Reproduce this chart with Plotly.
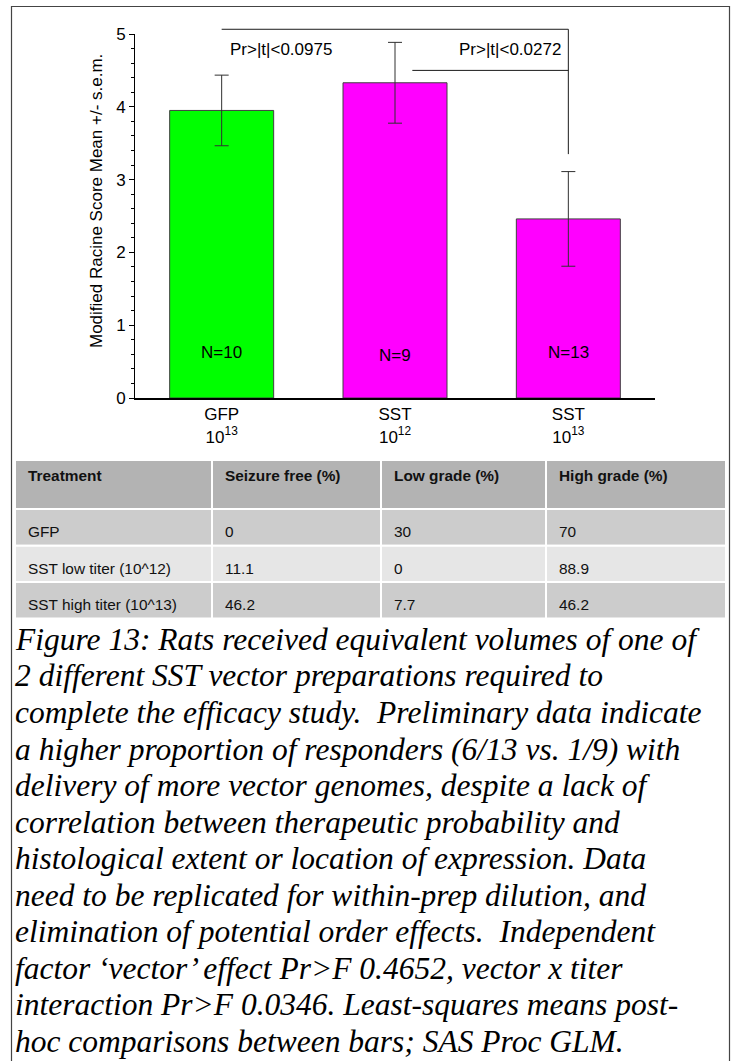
import html
import plotly.graph_objects as go

# ---------------------------------------------------------------- data
groups = ["GFP", "SST", "SST"]
titer_exponents = ["13", "12", "13"]
group_sizes = [10, 9, 13]
score_means = [3.95, 4.33, 2.46]
score_sems = [0.485, 0.555, 0.65]
bar_colors = ["#00ff00", "#ff00ff", "#ff00ff"]

comparison_labels = ["Pr>|t|<0.0975", "Pr>|t|<0.0272"]

table_header = ["Treatment", "Seizure free (%)", "Low grade (%)", "High grade (%)"]
treatments = ["GFP", "SST low titer (10^12)", "SST high titer (10^13)"]
seizure_free = ["0", "11.1", "46.2"]
low_grade = ["30", "0", "7.7"]
high_grade = ["70", "88.9", "46.2"]

caption_lines = [
    "Figure 13: Rats received equivalent volumes of one of",
    "2 different SST vector preparations required to",
    "complete the efficacy study.  Preliminary data indicate",
    "a higher proportion of responders (6/13 vs. 1/9) with",
    "delivery of more vector genomes, despite a lack of",
    "correlation between therapeutic probability and",
    "histological extent or location of expression. Data",
    "need to be replicated for within-prep dilution, and",
    "elimination of potential order effects.  Independent",
    "factor \u2018vector\u2019 effect Pr>F 0.4652, vector x titer",
    "interaction Pr>F 0.0346. Least-squares means post-",
    "hoc comparisons between bars; SAS Proc GLM.",
]

# ---------------------------------------------------------------- page geometry (pixels)
W, H = 732, 1061


def fx(px):
    return px / W


def fy(py):
    return 1 - py / H


def esc(s):
    # keep literal <, > and repeated spaces in rendered text
    return html.escape(s, quote=False).replace("  ", "\u00a0 ")


X_RANGE = [-0.5, 2.5]
Y_RANGE = [0, 5]
X_DOM = [fx(135), fx(655)]
Y_DOM = [fy(398), fy(34)]


def to_paper(xv, yv):
    xp = X_DOM[0] + (xv - X_RANGE[0]) / (X_RANGE[1] - X_RANGE[0]) * (X_DOM[1] - X_DOM[0])
    yp = Y_DOM[0] + (yv - Y_RANGE[0]) / (Y_RANGE[1] - Y_RANGE[0]) * (Y_DOM[1] - Y_DOM[0])
    return xp, yp


SANS = "Liberation Sans, Arial, sans-serif"
SERIF = "Liberation Serif, Times New Roman, serif"

positions = list(range(len(groups)))

fig = go.Figure()

fig.add_trace(go.Bar(
    x=positions,
    y=score_means,
    width=0.6,
    marker=dict(color=bar_colors, line=dict(color="#404040", width=1)),
    error_y=dict(type="data", array=score_sems, visible=True,
                 color="#303030", thickness=1, width=7),
    hoverinfo="skip",
    showlegend=False,
))

# group size labels inside the bars
n_label_heights = [0.63, 0.59, 0.63]
for xi, n, yh in zip(positions, group_sizes, n_label_heights):
    fig.add_annotation(x=xi, y=yh, xref="x", yref="y", text=f"N={n}",
                       showarrow=False, font=dict(family=SANS, size=17, color="black"))

# comparison brackets (axis units)
top_level, inner_level, drop_end, inner_start = 5.065, 4.5, 3.35, 1.1
bracket_segments = [
    ((0, top_level), (2, top_level)),
    ((2, top_level), (2, drop_end)),
    ((inner_start, inner_level), (2, inner_level)),
]
for (xa, ya), (xb, yb) in bracket_segments:
    x0, y0 = to_paper(xa, ya)
    x1, y1 = to_paper(xb, yb)
    fig.add_shape(type="line", xref="paper", yref="paper", x0=x0, y0=y0, x1=x1, y1=y1,
                  line=dict(color="#1a1a1a", width=1))

label_positions = [(0.343, 4.79), (1.663, 4.79)]
for (lx, ly), txt in zip(label_positions, comparison_labels):
    fig.add_annotation(x=lx, y=ly, xref="x", yref="y", text=esc(txt),
                       showarrow=False, font=dict(family=SANS, size=17, color="black"))

# y-axis title
fig.add_annotation(x=fx(97), y=fy(201), xref="paper", yref="paper",
                   xanchor="center", yanchor="middle",
                   text="Modified Racine Score Mean +/- s.e.m.", textangle=-90,
                   showarrow=False, font=dict(family=SANS, size=17, color="black"))

# summary table: shaded cells with white rules, text inset from each cell's left edge
col_edges = [15, 212, 381, 546, 726]
row_edges = [460, 509, 545.7, 582, 618.5]
row_fills = ["#b3b3b3", "#cccccc", "#e6e6e6", "#cccccc"]
text_drop = [15.4, 22.5, 22.5, 22.5]
table_rows = [[f"<b>{esc(h)}</b>" for h in table_header]] + [
    [esc(t), s, lo, hi] for t, s, lo, hi in zip(treatments, seizure_free, low_grade, high_grade)
]
for r, row in enumerate(table_rows):
    for c, value in enumerate(row):
        fig.add_shape(type="rect", xref="paper", yref="paper",
                      x0=fx(col_edges[c]), x1=fx(col_edges[c + 1]),
                      y0=fy(row_edges[r + 1]), y1=fy(row_edges[r]),
                      fillcolor=row_fills[r], line=dict(color="white", width=2), layer="below")
        fig.add_annotation(x=fx(col_edges[c] + 11), y=fy(row_edges[r] + text_drop[r]),
                           xref="paper", yref="paper", xanchor="left", yanchor="middle",
                           text=value, showarrow=False,
                           font=dict(family=SANS, size=15.4, color="#111111"))

# caption, one annotation per line so the leading is fixed
cap_size = 31.5
for i, line in enumerate(caption_lines):
    baseline = 650 + 36.55 * i
    fig.add_annotation(x=fx(13), y=fy(baseline - 0.3375 * cap_size),
                       xref="paper", yref="paper", xanchor="left", yanchor="middle",
                       text=f"<i>{esc(line)}</i>", showarrow=False,
                       font=dict(family=SERIF, size=cap_size, color="black"))

# outer frame
fig.add_shape(type="rect", xref="paper", yref="paper",
              x0=fx(11.5), x1=fx(729.5), y0=-0.02, y1=fy(6.5),
              line=dict(color="#444444", width=1.2), layer="below")

fig.update_layout(
    width=W, height=H,
    margin=dict(l=0, r=0, t=0, b=0, pad=0),
    paper_bgcolor="white",
    plot_bgcolor="rgba(0,0,0,0)",
    xaxis=dict(domain=X_DOM, range=X_RANGE, tickvals=positions,
               ticktext=[f"{g}<br>10<sup>{t}</sup>" for g, t in zip(groups, titer_exponents)],
               ticks="", showgrid=False, zeroline=False, showline=True,
               linecolor="black", linewidth=2, automargin=False,
               tickfont=dict(family=SANS, size=17, color="black"), fixedrange=True),
    yaxis=dict(domain=Y_DOM, range=Y_RANGE, dtick=1, tick0=0,
               ticks="outside", ticklen=5, tickwidth=1, tickcolor="black",
               minor=dict(dtick=0.2, ticks="outside", ticklen=3, tickcolor="black", tickwidth=1),
               showgrid=False, zeroline=False, showline=True, linecolor="black", linewidth=1,
               automargin=False,
               tickfont=dict(family=SANS, size=17, color="black"), fixedrange=True),
)

fig.write_html("out.html")
